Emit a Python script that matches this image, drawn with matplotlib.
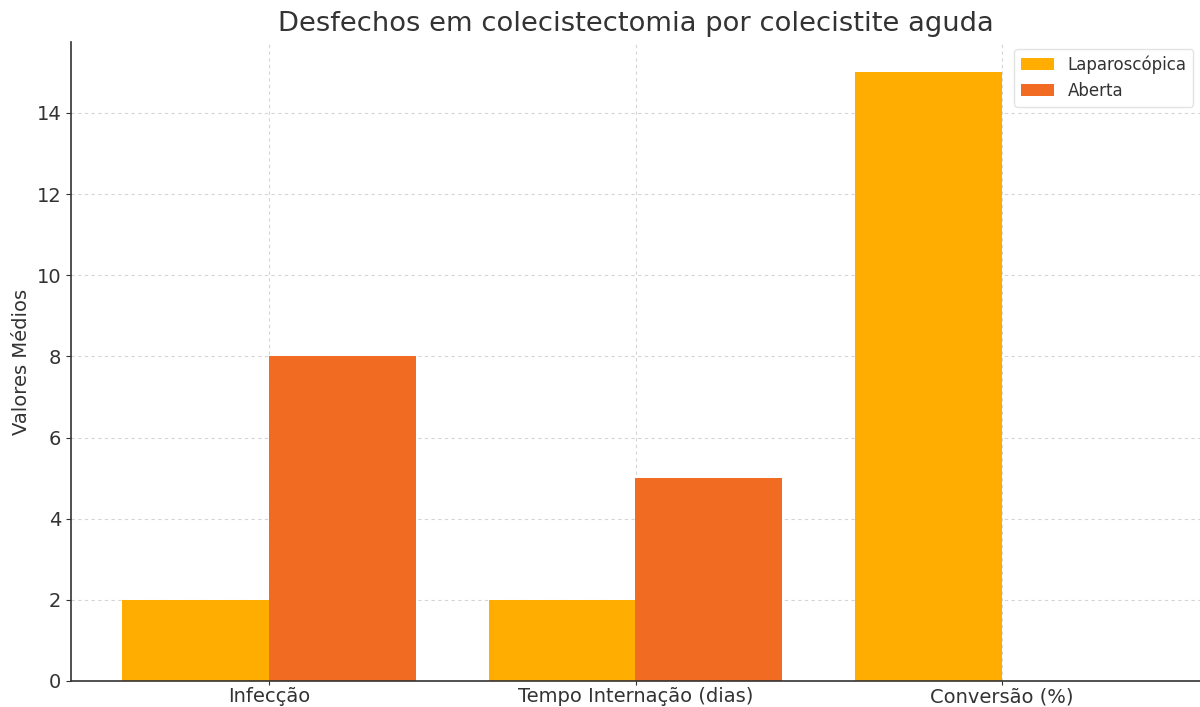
import matplotlib.pyplot as plt
import numpy as np

categorias = ["Infecção", "Tempo Internação (dias)", "Conversão (%)"]
laparoscopica = [2, 2, 15]
aberta = [8, 5, 0]

cor_lap = "#FFAD00"
cor_abe = "#F26B23"
texto = "#333333"

plt.rcParams['font.family'] = ['DejaVu Sans']

fig = plt.figure(figsize=(12, 7.07), dpi=100)
ax = fig.add_axes([71/1200, 1 - 681/707, 1 - 71/1200, (681 - 42)/707])

x = np.arange(len(categorias))
w = 0.4
ax.bar(x - w/2, laparoscopica, w, color=cor_lap, label="Laparoscópica", zorder=2)
ax.bar(x + w/2, aberta, w, color=cor_abe, label="Aberta", zorder=2)

ax.set_xticks(x)
ax.set_xticklabels(categorias)
ax.tick_params(axis='both', labelsize=14, colors=texto, labelcolor=texto)
ax.tick_params(axis='x', pad=1.5, length=3)
ax.set_ylabel("Valores Médios", fontsize=14, color=texto)
ax.set_title("Desfechos em colecistectomia por colecistite aguda", fontsize=19.7, color=texto, pad=8)

ax.grid(True, linestyle=(0, (3, 3)), color='#d5d5d5', linewidth=0.8, zorder=0)
ax.set_axisbelow(True)
for s in ['top', 'right']:
    ax.spines[s].set_visible(False)
for s in ['left', 'bottom']:
    ax.spines[s].set_color(texto)
    ax.spines[s].set_linewidth(1.2)

leg = ax.legend(loc='upper right', fontsize=12, labelcolor=texto, borderaxespad=0.4)
leg.get_frame().set_edgecolor('#dddddd')

plt.savefig("out.png", dpi=100)
